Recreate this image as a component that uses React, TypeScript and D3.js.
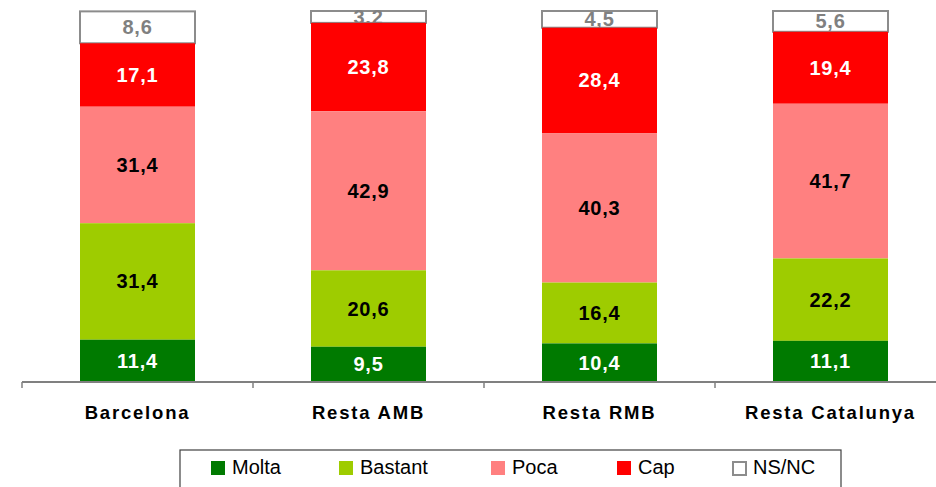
import React from "react";
import * as d3 from "d3";

const categories = ["Barcelona", "Resta AMB", "Resta RMB", "Resta Catalunya"];
const seriesNames = ["Molta", "Bastant", "Poca", "Cap", "NS/NC"];
const molta = [11.4, 9.5, 10.4, 11.1];
const bastant = [31.4, 20.6, 16.4, 22.2];
const poca = [31.4, 42.9, 40.3, 41.7];
const cap = [17.1, 23.8, 28.4, 19.4];
const nsnc = [8.6, 3.2, 4.5, 5.6];

const seriesValues = [molta, bastant, poca, cap, nsnc];
const fills = ["#007A00", "#9ECC00", "#FF8080", "#FF0000", "#FFFFFF"];
const labelColors = ["#FFFFFF", "#000000", "#000000", "#FFFFFF", "#808080"];
const legendX = [211, 339, 491, 617, 732];

const W = 936;
const H = 487;

export default function App() {
  const x = d3.scaleBand<string>().domain(categories).range([22, 22 + 231 * 4]).paddingInner(0).paddingOuter(0);
  const y = d3.scaleLinear().domain([0, 100]).range([382, 11]);
  const barW = 115;

  const rows = categories.map((c, i) => {
    const o: any = { cat: c };
    seriesNames.forEach((s, k) => (o[s] = seriesValues[k][i]));
    return o;
  });
  const stack = d3.stack<any>().keys(seriesNames)(rows);

  const order = [4, 3, 2, 1, 0];
  const font = "Arial, 'Liberation Sans', sans-serif";

  return (
    <svg width={W} height={H} style={{ position: "absolute", left: 0, top: 0, display: "block" }} fontFamily={font}>
      <rect x={0} y={0} width={W} height={H} fill="#fff" />
      {order.map((k) => (
        <g key={seriesNames[k]}>
          {stack[k].map((d, i) => {
            const cx = (x(categories[i]) as number) + x.bandwidth() / 2;
            const y0 = y(d[0]);
            const y1 = y(d[1]);
            const isNs = k === 4;
            return (
              <g key={i}>
                <rect
                  x={cx - barW / 2}
                  y={y1}
                  width={barW}
                  height={y0 - y1}
                  fill={fills[k]}
                  stroke={isNs ? "#8C8C8C" : "none"}
                  strokeWidth={isNs ? 2 : 0}
                />
                <text
                  x={cx}
                  y={(y0 + y1) / 2 + 7}
                  textAnchor="middle"
                  fontSize={20}
                  fontWeight="bold"
                  letterSpacing={0.8}
                  fill={labelColors[k]}
                >
                  {seriesValues[k][i].toFixed(1).replace(".", ",")}
                </text>
              </g>
            );
          })}
        </g>
      ))}
      <line x1={22} x2={W} y1={382} y2={382} stroke="#808080" strokeWidth={2} />
      {categories.map((c, i) => (
        <line key={c} x1={(x(c) as number)} x2={(x(c) as number)} y1={382} y2={388} stroke="#808080" strokeWidth={1.5} />
      ))}
      {categories.map((c) => (
        <text
          key={c}
          x={(x(c) as number) + x.bandwidth() / 2}
          y={418.5}
          textAnchor="middle"
          fontSize={18.5}
          fontWeight="bold"
          letterSpacing={1.8}
          fill="#000"
        >
          {c}
        </text>
      ))}
      <rect x={180} y={450} width={661} height={60} fill="#fff" stroke="#404040" strokeWidth={1.2} />
      {seriesNames.map((s, k) => (
        <g key={s}>
          <rect
            x={legendX[k] + (k === 4 ? 1 : 0)}
            y={461 + (k === 4 ? 1 : 0)}
            width={k === 4 ? 13 : 14}
            height={k === 4 ? 13 : 14}
            fill={fills[k]}
            stroke={k === 4 ? "#8C8C8C" : "none"}
            strokeWidth={k === 4 ? 2 : 0}
          />
          <text x={legendX[k] + 21} y={473.5} fontSize={20} fill="#000">
            {s}
          </text>
        </g>
      ))}
    </svg>
  );
}
